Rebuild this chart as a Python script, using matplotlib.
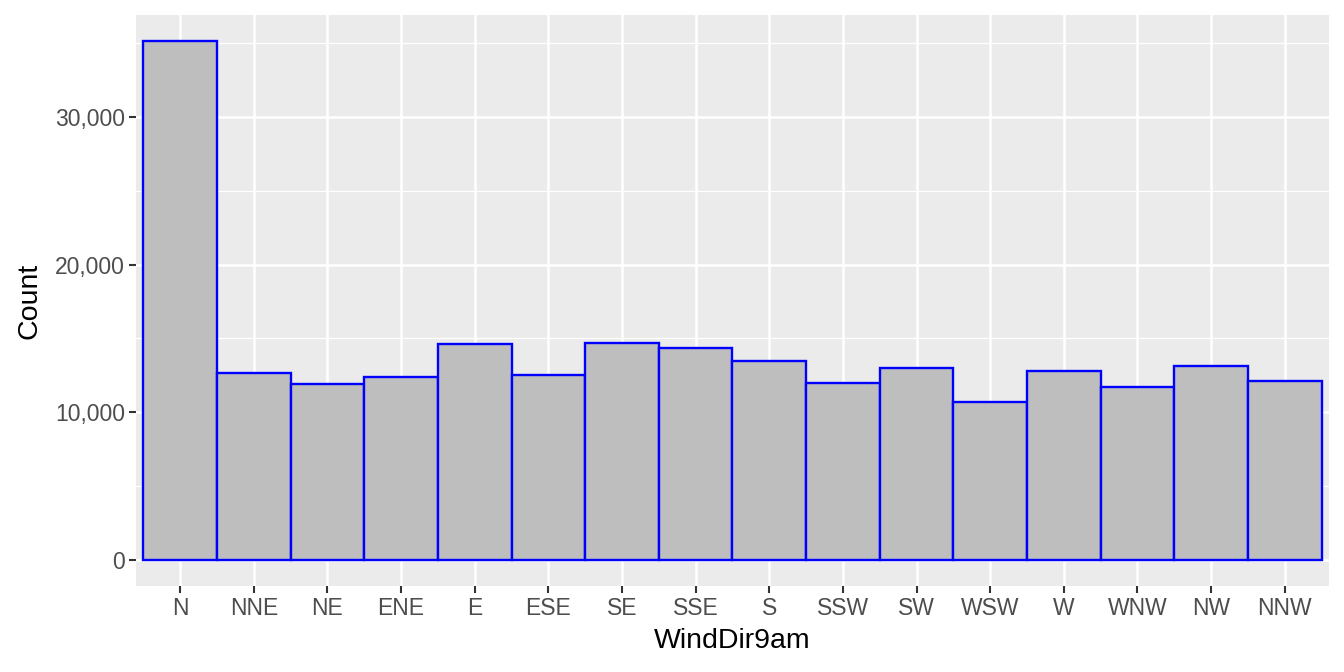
import matplotlib.pyplot as plt
from matplotlib.ticker import FuncFormatter, MultipleLocator

plt.rcParams['font.family'] = ['Liberation Sans', 'DejaVu Sans']

# wind direction at 9am and number of observations
directions = ["N", "NNE", "NE", "ENE", "E", "ESE", "SE", "SSE",
              "S", "SSW", "SW", "WSW", "W", "WNW", "NW", "NNW"]
counts = [35140, 12660, 11920, 12390, 14620, 12530, 14690, 14350,
          13470, 11980, 13000, 10700, 12800, 11710, 13140, 12120]

fig = plt.figure(figsize=(13.44, 6.72), dpi=100)
ax = fig.add_axes([0.1012, 0.128, 0.8876, 0.8497])

ax.set_facecolor("#EBEBEB")
pos = range(len(directions))
ax.bar(pos, counts, width=1.0, color="#BEBEBE", edgecolor="blue", linewidth=1.7, zorder=3)

# ggplot-like limits and grid
ax.set_xlim(-0.6, len(directions) - 0.4)
top = max(counts)
ax.set_ylim(-0.05 * top, 1.05 * top)
ax.yaxis.set_major_locator(MultipleLocator(10000))
ax.yaxis.set_minor_locator(MultipleLocator(5000))
ax.grid(which="major", color="white", linewidth=1.8, zorder=0)
ax.grid(which="minor", axis="y", color="white", linewidth=0.9, zorder=0)
ax.set_axisbelow(True)

ax.set_xticks(list(pos))
ax.set_xticklabels(directions)
ax.yaxis.set_major_formatter(FuncFormatter(lambda v, p: f"{int(v):,}"))

for s in ax.spines.values():
    s.set_visible(False)
ax.tick_params(which="major", length=5, width=1.5, color="#333333", pad=3,
               labelsize=16.5, labelcolor="#4D4D4D")
ax.tick_params(which="minor", length=0)

ax.set_xlabel("WindDir9am", fontsize=20.5, labelpad=6)
ax.set_ylabel("Count", fontsize=20.5, labelpad=9)

fig.savefig("out.png", dpi=100)
